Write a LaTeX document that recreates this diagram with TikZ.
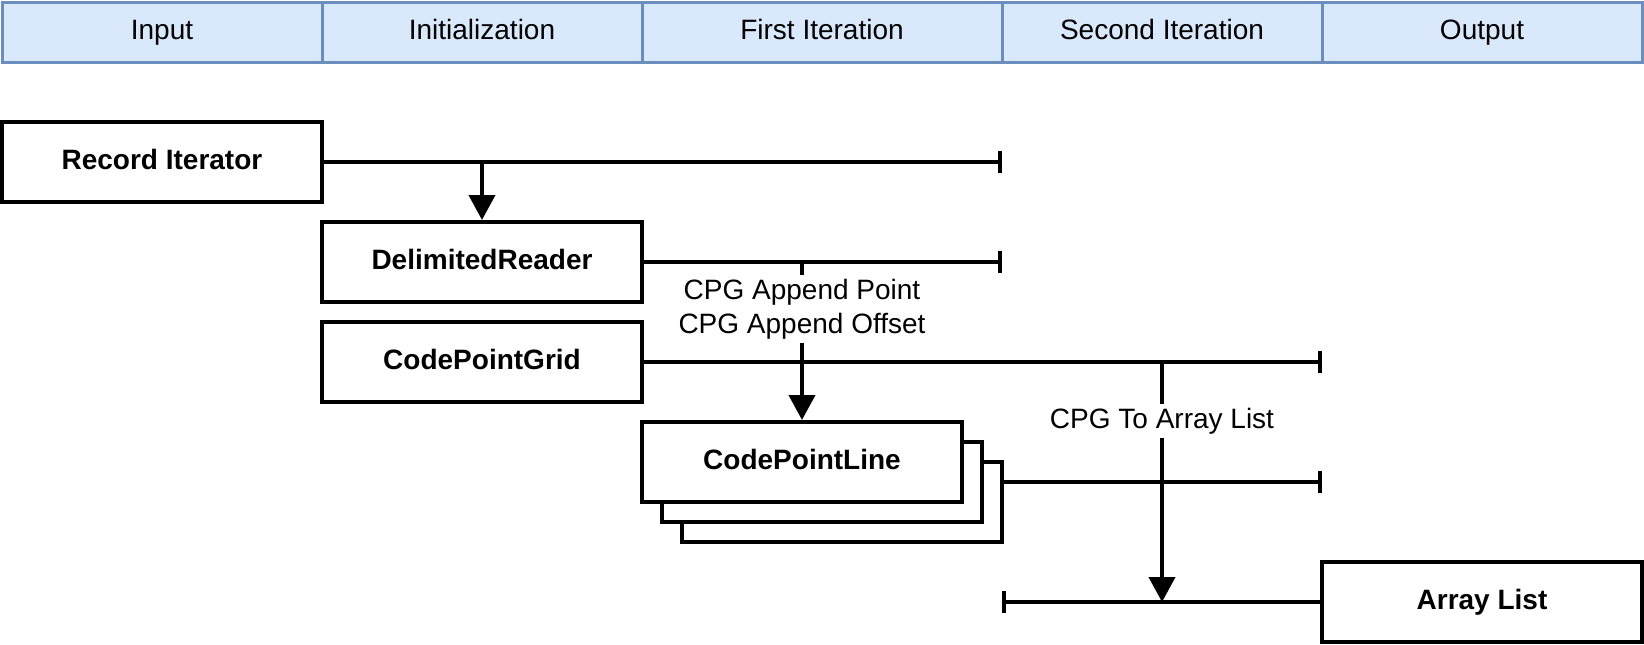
\documentclass[tikz,border=0pt]{standalone}
\usepackage{fontspec}
\setmainfont{Liberation Sans}
\usetikzlibrary{arrows.meta,positioning}

\definecolor{phaseFill}{RGB}{218,232,252}
\definecolor{phaseLine}{RGB}{108,142,191}

\tikzset{
  phase/.style={draw=phaseLine, fill=phaseFill, line width=1.5pt, minimum height=30pt,
    inner sep=0pt, text height=10pt, text depth=2.5pt, font=\fontsize{14pt}{17pt}\selectfont},
  block/.style={draw, fill=white, line width=2pt, minimum width=160pt, minimum height=40pt,
    inner sep=0pt, text height=10pt, text depth=2.5pt, font=\fontsize{14pt}{17pt}\selectfont\bfseries},
  lbl/.style={fill=white, inner sep=2pt, align=center, font=\fontsize{14pt}{17pt}\selectfont},
  flow/.style={line width=2pt},
  feed/.style={line width=2pt, -{Triangle[width=13pt,length=12.5pt]}},
  stop/.style={line width=2pt, -{Bar[width=11pt]}},
}

\begin{document}
\begin{tikzpicture}[x=0.5pt, y=-0.5pt]
% page in pixel units of the drawing
\useasboundingbox (0,0) rectangle (1644,644);
% Phase header
\node[phase, minimum width=160pt] (hin)   at (162,32)  {Input};
\node[phase, minimum width=160pt] (hinit) at (482,32)  {Initialization};
\node[phase, minimum width=180pt] (hfirst) at (822,32) {First Iteration};
\node[phase, minimum width=160pt] (hsec)  at (1162,32) {Second Iteration};
\node[phase, minimum width=160pt] (hout)  at (1482,32) {Output};
% Components
\node[block] (ri)  at (162,162) {Record Iterator};
\node[block] (dr)  at (482,262) {DelimitedReader};
\node[block] (cpg) at (482,362) {CodePointGrid};
% stacked lines, back to front
\node[block] (cpl3) at (842,502) {};
\node[block] (cpl2) at (822,482) {};
\node[block] (cpl)  at (802,462) {CodePointLine};
\node[block] (al)  at (1482,602) {Array List};
% Life line ends
\coordinate (ri-end)   at (1002,162);
\coordinate (dr-end)   at (1002,262);
\coordinate (cpg-end)  at (1322,362);
\coordinate (cpl-end)  at (1322,482);
\coordinate (al-start) at (1002,602);
% Life lines
\draw[stop] (ri.east) -- (ri-end);
\draw[stop] (dr.east) -- (dr-end);
\draw[stop] (cpg.east) -- (cpg-end);
\draw[stop] ([yshift=10pt]cpl3.east) -- (cpl-end);
\draw[flow, {Bar[width=11pt]}-] (al-start) -- (al.west);
% Calls
\draw[feed] (dr.north |- ri.east) -- (dr.north);
\node[lbl] (append) at (802,309) {CPG Append Point\\CPG Append Offset};
\draw[flow] (append.north |- dr.east) -- (append.north);
\draw[feed] (append.south) -- (cpl.north);
\node[lbl] (toal) at (1162,421) {CPG To Array List};
\draw[flow] (toal.north |- cpg.east) -- (toal.north);
\draw[feed] (toal.south) -- (toal.south |- al.west);
\end{tikzpicture}
\end{document}
